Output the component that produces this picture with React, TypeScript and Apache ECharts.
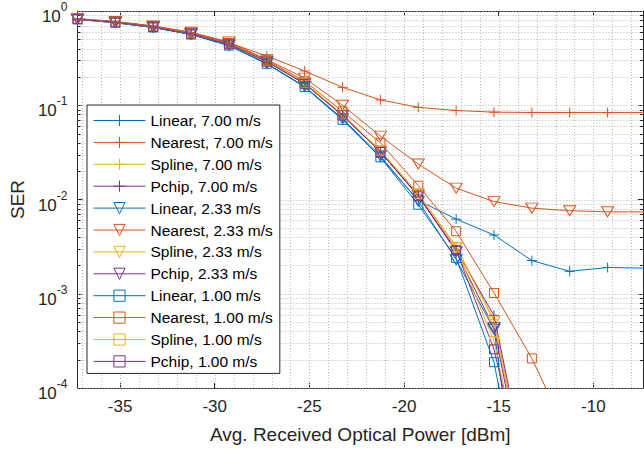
import React, { useEffect, useRef } from "react";
import * as echarts from "echarts";

// ---------------- data ----------------
const xValues = [
  -37.25, -35.25, -33.25, -31.25, -29.25, -27.25, -25.25, -23.25, -21.25, -19.25,
  -17.25, -15.25, -13.25, -11.25, -9.25, -7.25,
];

const linear700 = [0.82, 0.755, 0.67, 0.565, 0.43, 0.275, 0.157, 0.071, 0.028, 0.0098, 0.0062, 0.0042, 0.00225, 0.00173, 0.0019, 0.00187];
const nearest700 = [0.83, 0.77, 0.69, 0.59, 0.46, 0.333, 0.231, 0.155, 0.114, 0.095, 0.088, 0.0845, 0.0838, 0.0837, 0.0836, 0.0836];
const spline700 = [0.82, 0.76, 0.68, 0.578, 0.448, 0.295, 0.172, 0.08, 0.033, 0.0115, 0.0032, 0.00053, 0.0000057];
const pchip700 = [0.82, 0.76, 0.68, 0.576, 0.446, 0.292, 0.17, 0.079, 0.032, 0.011, 0.0029, 0.00059, 0.0000066];
const linear233 = [0.815, 0.75, 0.67, 0.565, 0.432, 0.278, 0.158, 0.072, 0.029, 0.0096, 0.0023, 0.00042, 0.00000048];
const nearest233 = [0.83, 0.775, 0.695, 0.595, 0.47, 0.305, 0.194, 0.1, 0.047, 0.0238, 0.0132, 0.0095, 0.0081, 0.0076, 0.0074, 0.0074];
const spline233 = [0.82, 0.76, 0.68, 0.578, 0.448, 0.294, 0.172, 0.08, 0.033, 0.0115, 0.0031, 0.00051, 0.0000044];
const pchip233 = [0.82, 0.76, 0.68, 0.576, 0.446, 0.291, 0.169, 0.078, 0.032, 0.011, 0.0028, 0.000436, 0.0000042];
const linear100 = [0.815, 0.75, 0.668, 0.563, 0.43, 0.275, 0.156, 0.07, 0.028, 0.0088, 0.0024, 0.000188, 0.0000016];
const nearest100 = [0.825, 0.77, 0.69, 0.588, 0.458, 0.3, 0.18, 0.086, 0.04, 0.014, 0.0046, 0.00102, 0.000206, 0.000029];
const spline100 = [0.82, 0.758, 0.678, 0.575, 0.445, 0.292, 0.171, 0.079, 0.033, 0.0114, 0.0031, 0.000315, 0.0000041];
const pchip100 = [0.82, 0.758, 0.677, 0.574, 0.444, 0.29, 0.169, 0.078, 0.032, 0.0108, 0.0029, 0.000257, 0.0000049];

const seriesNames = [
  "Linear, 7.00 m/s", "Nearest, 7.00 m/s", "Spline, 7.00 m/s", "Pchip, 7.00 m/s",
  "Linear, 2.33 m/s", "Nearest, 2.33 m/s", "Spline, 2.33 m/s", "Pchip, 2.33 m/s",
  "Linear, 1.00 m/s", "Nearest, 1.00 m/s", "Spline, 1.00 m/s", "Pchip, 1.00 m/s",
];
const seriesData = [
  linear700, nearest700, spline700, pchip700,
  linear233, nearest233, spline233, pchip233,
  linear100, nearest100, spline100, pchip100,
];

const xMajorTicks = [-35, -30, -25, -20, -15, -10];
const xMinorTicks = [-37, -36, -34, -33, -32, -31, -29, -28, -27, -26, -24, -23, -22, -21, -19, -18, -17, -16, -14, -13, -12, -11, -9, -8];
const yMajorTicks = [1e-4, 1e-3, 1e-2, 1e-1, 1];
const yMinorMantissas = [2, 3, 4, 5, 6, 7, 8, 9];

const X_MIN = -37.25;
const X_MAX = -7.38;
const Y_MIN = 1e-4;
const Y_MAX = 1;

// ---------------- styles ----------------
const COLORS = ["#0072BD", "#D95319", "#EDB120", "#7E2F8E"];
const AXIS_COLOR = "#262626";
const GRID_COLOR = "#b8b8b8";
const FONT = "Liberation Sans, Arial, Helvetica, sans-serif";

const SYM_PLUS = "path://M5,0L5,10M0,5L10,5";
const SYM_TRI = "path://M0,0L10,0L5,8.66Z";
const SYM_SQ = "path://M0,0L10,0L10,10L0,10Z";

export default function App() {
  const ref = useRef<HTMLDivElement>(null);

  useEffect(() => {
    if (!ref.current) return;
    const chart = echarts.init(ref.current, undefined, { renderer: "svg" });

    const yMinorTicks: number[] = [];
    yMajorTicks.slice(0, -1).forEach((d) => yMinorMantissas.forEach((m) => yMinorTicks.push(m * d)));

    const hGridData = [
      ...yMajorTicks.map((v) => [X_MIN, v, 1]),
      ...yMinorTicks.map((v) => [X_MIN, v, 0]),
    ];
    const vGridData = [
      ...xMajorTicks.map((v) => [v, Y_MIN, 1]),
      ...xMinorTicks.map((v) => [v, Y_MIN, 0]),
    ];

    const lineSeries = seriesNames.map((name, i) => {
      const color = COLORS[i % 4];
      const group = Math.floor(i / 4);
      const symbol = group === 0 ? SYM_PLUS : group === 1 ? SYM_TRI : SYM_SQ;
      const symbolSize = group === 0 ? 10 : group === 1 ? [12, 10] : 9;
      return {
        name,
        type: "line",
        data: seriesData[i].map((v, k) => [xValues[k], v]),
        symbol,
        symbolSize,
        showAllSymbol: true,
        clip: true,
        z: 3,
        lineStyle: { color, width: 1 },
        itemStyle: { color: "rgba(0,0,0,0)", borderColor: color, borderWidth: 1 },
        emphasis: { disabled: true },
      };
    });

    const option: any = {
      animation: false,
      textStyle: { fontFamily: FONT },
      grid: { left: 73, top: 11, width: 570, height: 377.5, containLabel: false },
      xAxis: [
        {
          type: "value",
          min: X_MIN,
          max: X_MAX,
          position: "bottom",
          name: "Avg. Received Optical Power [dBm]",
          nameLocation: "middle",
          nameGap: 37,
          nameTextStyle: { fontSize: 19, color: AXIS_COLOR, fontFamily: FONT },
          axisLine: { show: true, onZero: false, lineStyle: { color: AXIS_COLOR, width: 1 } },
          axisTick: { show: true, inside: true, length: 5, lineStyle: { color: AXIS_COLOR } },
          axisLabel: {
            show: true,
            margin: 10,
            fontSize: 17,
            color: AXIS_COLOR,
            fontFamily: FONT,
            showMinLabel: false,
            showMaxLabel: false,
            formatter: (v: number) => (xMajorTicks.includes(v) ? String(v) : ""),
          },
          splitLine: { show: false },
        },
        {
          type: "value",
          min: X_MIN,
          max: X_MAX,
          position: "top",
          axisLine: { show: true, onZero: false, lineStyle: { color: AXIS_COLOR, width: 1 } },
          axisTick: { show: true, inside: true, length: 5, lineStyle: { color: AXIS_COLOR } },
          axisLabel: { show: false },
          splitLine: { show: false },
        },
      ],
      yAxis: [
        {
          type: "log",
          logBase: 10,
          min: Y_MIN,
          max: Y_MAX,
          position: "left",
          name: "SER",
          nameLocation: "middle",
          nameGap: 48,
          nameTextStyle: { fontSize: 19, color: AXIS_COLOR, fontFamily: FONT },
          axisLine: { show: true, onZero: false, lineStyle: { color: AXIS_COLOR, width: 1 } },
          axisTick: { show: true, inside: true, length: 5, lineStyle: { color: AXIS_COLOR } },
          axisLabel: {
            show: true,
            margin: 10,
            color: AXIS_COLOR,
            fontFamily: FONT,
            padding: [4, 0, 0, 0],
            formatter: (v: number) => `{b|10}{s|${Math.round(Math.log10(v))}}`,
            rich: {
              b: { fontSize: 17, color: AXIS_COLOR, fontFamily: FONT, padding: [7, 0, 0, 0] },
              s: { fontSize: 12, color: AXIS_COLOR, fontFamily: FONT, verticalAlign: "top" },
            },
          },
          splitLine: { show: false },
        },
        {
          type: "log",
          logBase: 10,
          min: Y_MIN,
          max: Y_MAX,
          position: "right",
          axisLine: { show: true, onZero: false, lineStyle: { color: AXIS_COLOR, width: 1 } },
          axisTick: { show: true, inside: true, length: 5, lineStyle: { color: AXIS_COLOR } },
          axisLabel: { show: false },
          splitLine: { show: false },
        },
      ],
      legend: {
        data: seriesNames,
        orient: "vertical",
        left: 87,
        top: 105,
        itemWidth: 52,
        itemHeight: 14,
        itemGap: 5.9,
        padding: [7.5, 7, 4, 6],
        backgroundColor: "#ffffff",
        borderColor: AXIS_COLOR,
        borderWidth: 1,
        borderRadius: 0,
        selectedMode: false,
        z: 10,
        lineStyle: { width: 1, color: "inherit" },
        itemStyle: { borderWidth: 1 },
        textStyle: { fontSize: 15.5, color: "#000000", fontFamily: FONT },
      },
      series: [
        {
          type: "custom",
          name: "hgrid",
          silent: true,
          z: 1,
          clip: false,
          encode: { x: 0, y: 1 },
          data: hGridData,
          renderItem: (params: any, api: any) => {
            const v = api.value(1);
            const major = api.value(2) === 1;
            const a = api.coord([X_MIN, v]);
            const b = api.coord([X_MAX, v]);
            const y = Math.round(a[1]) + 0.5;
            const children: any[] = [
              {
                type: "line",
                shape: { x1: a[0], y1: y, x2: b[0], y2: y },
                style: { stroke: GRID_COLOR, lineWidth: 1, lineDash: [1, 2] },
              },
            ];
            if (!major) {
              children.push({
                type: "line",
                shape: { x1: a[0], y1: y, x2: a[0] + 3, y2: y },
                style: { stroke: AXIS_COLOR, lineWidth: 1 },
              });
              children.push({
                type: "line",
                shape: { x1: b[0] - 3, y1: y, x2: b[0], y2: y },
                style: { stroke: AXIS_COLOR, lineWidth: 1 },
              });
            }
            return { type: "group", children };
          },
        },
        {
          type: "custom",
          name: "vgrid",
          silent: true,
          z: 1,
          clip: false,
          encode: { x: 0, y: 1 },
          data: vGridData,
          renderItem: (params: any, api: any) => {
            const v = api.value(0);
            const a = api.coord([v, Y_MIN]);
            const b = api.coord([v, Y_MAX]);
            const x = Math.round(a[0]) + 0.5;
            return {
              type: "line",
              shape: { x1: x, y1: a[1], x2: x, y2: b[1] },
              style: { stroke: GRID_COLOR, lineWidth: 1, lineDash: [1, 2] },
            };
          },
        },
        ...lineSeries,
      ],
    };

    chart.setOption(option);
    return () => chart.dispose();
  }, []);

  return (
    <div
      ref={ref}
      style={{ position: "absolute", left: 0, top: 0, width: 644, height: 449, background: "#ffffff" }}
    />
  );
}
